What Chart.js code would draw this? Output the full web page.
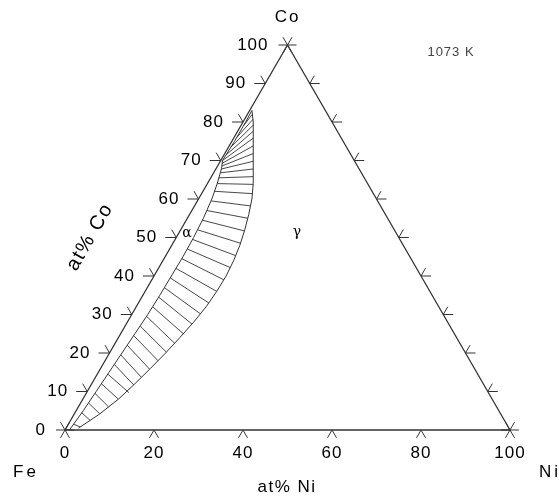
<!DOCTYPE html>
<html>
<head>
<meta charset="utf-8">
<script src="https://cdn.jsdelivr.net/npm/chart.js@4"></script>
<style>
  html, body { margin: 0; padding: 0; background: #fff; }
  #wrap { width: 559px; height: 498px; }
</style>
</head>
<body>
<div id="wrap"><canvas id="chart" width="559" height="498"></canvas></div>
<script>
// -------- DATA (at% Ni, at% Co) --------
const coTicks = [0, 10, 20, 30, 40, 50, 60, 70, 80, 90, 100];
const niTicks = [0, 20, 40, 60, 80, 100];
const rightTicks = [10, 20, 30, 40, 50, 60, 70, 80, 90];

// alpha (bcc) phase boundary
const alphaNi = [1.0, 1.6, 2.0, 2.4, 2.8, 3.2, 3.6, 3.8, 3.9, 4.0, 3.9, 3.6, 3.0, 2.2, 1.2, 0.4, 0.6, 0.6, 0.5];
const alphaCo = [0, 5, 10, 15, 20, 25, 30, 35, 40, 45, 50, 55, 60, 64, 68, 70, 75, 80, 83];

// gamma (fcc) phase boundary
const gammaNi = [2.8, 5.6, 8.0, 9.7, 11.2, 12.6, 13.8, 14.9, 15.7, 16.1, 16.2, 15.9, 15.3, 14.4, 13.3, 12.0, 10.3, 8.3, 6.3, 4.3, 2.3, 0.5];
const gammaCo = [0.5, 4, 8, 12, 16, 20, 24, 28, 32, 36, 40, 44, 48, 52, 56, 60, 64, 68, 72, 76, 80, 83];

// tie lines: alpha end -> gamma end
const tieAlphaNi = [1.2, 1.5, 1.8, 2.0, 2.2, 2.4, 2.6, 2.8, 3.0, 3.2, 3.4, 3.6, 3.7, 3.8, 3.8, 3.9, 3.9, 4.0, 4.0, 3.9, 3.8, 3.6, 3.4, 3.1, 2.6,
                    2.2, 1.8, 1.5, 1.25, 1.0, 0.7, 0.4, 0.5, 0.55, 0.6, 0.6];
const tieAlphaCo = [1.5, 4.5, 7, 9.5, 12, 14.5, 17, 19.5, 22, 24.5, 27, 29.5, 32, 34.5, 37, 39.5, 42, 44.5, 47, 49.5, 52, 54.5, 57, 59.5, 62,
                    64, 65.5, 66.8, 67.8, 68.6, 69.3, 70, 71.5, 73.5, 76, 79];
const tieGammaNi = [3.0, 4.4, 5.7, 6.8, 8.0, 9.5, 9.6, 10.3, 11.1, 11.9, 12.7, 13.4, 14.1, 14.8, 15.3, 15.8, 16.1, 16.2, 16.0, 15.7, 15.2, 14.5, 13.6, 12.6, 11.4,
                    10.4, 9.4, 8.4, 7.4, 6.4, 5.4, 4.4, 3.5, 2.7, 1.9, 1.1];
const tieGammaCo = [0.8, 2.5, 4.2, 6.0, 8.0, 9.7, 11.7, 13.7, 15.8, 18.0, 20.2, 22.5, 25, 27.5, 30.2, 33.0, 36.0, 39.0, 42.2, 45.3, 48.5, 51.7, 55.0, 58.2, 61.4,
                    63.8, 65.8, 67.8, 69.8, 71.8, 73.8, 75.8, 77.6, 79.2, 80.7, 82];

// -------- helpers --------
const SQ = Math.sqrt(3) / 2;
function tern(ni, co) { return { x: ni + co / 2, y: co * SQ }; }
const LINE = '#333';

function lineSet(points, width) {
    return {
        data: points,
        showLine: true,
        borderColor: LINE,
        borderWidth: width,
        pointRadius: 0,
        fill: false,
        clip: false,
        tension: 0
    };
}

const datasets = [];
// triangle frame
datasets.push(lineSet([tern(0, 0), tern(100, 0), tern(0, 100), tern(0, 0)], 1.3));
// phase boundaries
datasets.push(lineSet(alphaNi.map((n, i) => tern(n, alphaCo[i])), 1));
datasets.push(lineSet(gammaNi.map((n, i) => tern(n, gammaCo[i])), 1));
// tie lines
tieAlphaNi.forEach((n, i) => {
    datasets.push(lineSet([tern(n, tieAlphaCo[i]), tern(tieGammaNi[i], tieGammaCo[i])], 0.9));
});

function drawText(ctx, txt, x, y, font, align, spacing, color) {
    ctx.font = font;
    ctx.letterSpacing = spacing || '0px';
    ctx.textAlign = align || 'center';
    ctx.textBaseline = 'middle';
    ctx.fillStyle = color || '#000';
    ctx.fillText(txt, x, y);
}

// ticks, vertex marks and labels
const ternaryAxes = {
    id: 'ternaryAxes',
    afterDatasetsDraw(chart) {
        const ctx = chart.ctx;
        const xs = chart.scales.x, ys = chart.scales.y;
        const P = (ni, co) => {
            const t = tern(ni, co);
            return [xs.getPixelForValue(t.x), ys.getPixelForValue(t.y)];
        };
        const ray = (p, deg, len) => {
            const a = deg * Math.PI / 180;
            ctx.moveTo(p[0], p[1]);
            ctx.lineTo(p[0] + Math.cos(a) * len, p[1] - Math.sin(a) * len);
        };
        ctx.save();
        ctx.strokeStyle = LINE;
        ctx.lineWidth = 1;
        ctx.beginPath();
        coTicks.forEach(c => {
            if (c === 0 || c === 100) return;
            const p = P(0, c);
            ray(p, 180, 11); ray(p, 120, 9);
        });
        rightTicks.forEach(c => {
            const p = P(100 - c, c);
            ray(p, 0, 10); ray(p, 60, 9);
        });
        niTicks.forEach(n => {
            if (n === 0 || n === 100) return;
            const p = P(n, 0);
            ray(p, 240, 9); ray(p, 300, 9);
        });
        [P(0, 0), P(100, 0), P(0, 100)].forEach(p => {
            [0, 60, 120, 180, 240, 300].forEach(d => ray(p, d, 9));
        });
        ctx.stroke();

        const f = '17px "Liberation Sans", Arial, sans-serif';
        coTicks.forEach(c => {
            const p = P(0, c);
            drawText(ctx, String(c), p[0] - 19, p[1], f, 'right', '1px');
        });
        niTicks.forEach(n => {
            const p = P(n, 0);
            drawText(ctx, String(n), p[0], 453, f, 'center', '1px');
        });
        const top = P(0, 100);
        drawText(ctx, 'Co', top[0], 17, f, 'center', '2px');
        drawText(ctx, 'Fe', 26, 472, f, 'center', '3px');
        drawText(ctx, 'Ni', 550, 472, f, 'center', '3px');
        drawText(ctx, 'at% Ni', 287, 487, f, 'center', '1.5px');
        drawText(ctx, '1073 K', 451, 52, '13px "Liberation Sans", Arial, sans-serif', 'center', '1px', '#444');
        drawText(ctx, 'α', 187, 233, '14px "DejaVu Serif", serif', 'center', '0px');
        drawText(ctx, 'γ', 297, 232, '14px "DejaVu Serif", serif', 'center', '0px');

        ctx.save();
        ctx.translate(90, 237);
        ctx.rotate(-60 * Math.PI / 180);
        drawText(ctx, 'at% Co', 0, 0, '20px "Liberation Sans", Arial, sans-serif', 'center', '1.5px');
        ctx.restore();
        ctx.restore();
    }
};

new Chart(document.getElementById('chart').getContext('2d'), {
    type: 'scatter',
    data: { datasets: datasets },
    options: {
        responsive: false,
        animation: false,
        events: [],
        layout: { padding: { left: 65, right: 49, top: 45, bottom: 68 } },
        plugins: { legend: { display: false }, tooltip: { enabled: false }, title: { display: false } },
        scales: {
            x: { type: 'linear', min: 0, max: 100, display: false },
            y: { type: 'linear', min: 0, max: 100 * SQ, display: false }
        }
    },
    plugins: [ternaryAxes]
});
</script>
</body>
</html>
